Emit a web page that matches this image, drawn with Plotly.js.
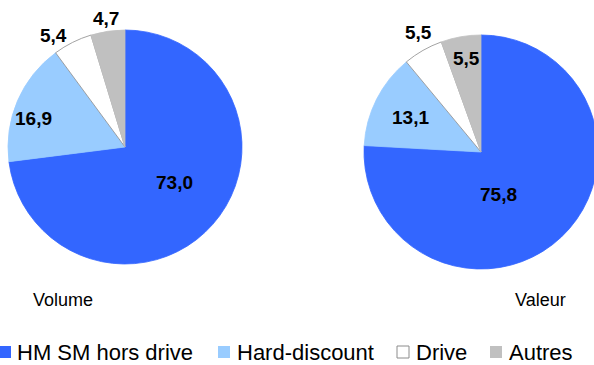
<!DOCTYPE html>
<html>
<head>
<meta charset="utf-8">
<script src="https://cdn.plot.ly/plotly-3.0.1.min.js"></script>
<style>
  html, body { margin: 0; padding: 0; background: #fff; overflow: hidden; }
  #chart { width: 600px; height: 365px; }
</style>
</head>
<body>
<div id="chart"></div>
<script>
// ---- Data ----
const categories = ["HM SM hors drive", "Hard-discount", "Drive", "Autres"];
const volumeValues = [73.0, 16.9, 5.4, 4.7];
const valeurValues = [75.8, 13.1, 5.5, 5.5];
const pieTitles = ["Volume", "Valeur"];

// ---- Style / layout constants ----
const W = 600, H = 365;
const colors = ["#3366FF", "#99CCFF", "#FFFFFF", "#C0C0C0"];
const lineColors = ["#3366FF", "#99CCFF", "#8C8C8C", "#C0C0C0"];
const FONT = "Liberation Sans, Arial, Helvetica, sans-serif";
// pie geometry in pixels: center x, center y, radius
const pies = [
  { cx: 125, cy: 147, r: 117 },
  { cx: 481, cy: 152, r: 117 }
];
// label placement: radial fraction and angular tweak (degrees)
const labelR = [[0.52, 0.82, 1.13, 1.11], [0.39, 0.67, 1.15, 0.81]];
const labelShift = [[-6, -6, -6, 0], [21, -1, 2, 1]];
const titlePos = [{ x: 63, y: 300 }, { x: 540, y: 300 }];
const legendSquares = [-1, 218, 397, 490];
const legendText = [15, 235, 414, 507];
const legendY = 352;

const px = x => x / W;
const py = y => 1 - y / H;
const fmt = v => v.toFixed(1).replace('.', ',');

const seriesList = [volumeValues, valeurValues];

const traces = seriesList.map((vals, i) => {
  const p = pies[i];
  return {
    type: 'pie',
    labels: categories,
    values: vals,
    sort: false,
    direction: 'clockwise',
    rotation: 0,
    textinfo: 'none',
    hoverinfo: 'label+value',
    showlegend: false,
    automargin: false,
    marker: { colors: colors, line: { color: lineColors, width: 0.8 } },
    domain: {
      x: [px(p.cx - p.r), px(p.cx + p.r)],
      y: [py(p.cy + p.r), py(p.cy - p.r)]
    }
  };
});

const annotations = [];
seriesList.forEach((vals, i) => {
  const p = pies[i];
  const total = vals.reduce((a, b) => a + b, 0);
  let cum = 0;
  vals.forEach((v, j) => {
    const mid = (cum + v / 2) / total * 360 + labelShift[i][j];
    cum += v;
    const th = mid * Math.PI / 180;
    const rr = labelR[i][j] * p.r;
    annotations.push({
      xref: 'paper', yref: 'paper',
      x: px(p.cx + rr * Math.sin(th)),
      y: py(p.cy - rr * Math.cos(th)),
      xanchor: 'center', yanchor: 'middle',
      text: '<b>' + fmt(v) + '</b>',
      showarrow: false,
      font: { family: FONT, size: 19, color: '#000' }
    });
  });
  annotations.push({
    xref: 'paper', yref: 'paper',
    x: px(titlePos[i].x), y: py(titlePos[i].y),
    xanchor: 'center', yanchor: 'middle',
    text: pieTitles[i], showarrow: false,
    font: { family: FONT, size: 18, color: '#000' }
  });
});

const shapes = [];
categories.forEach((c, k) => {
  shapes.push({
    type: 'rect', xref: 'paper', yref: 'paper',
    x0: px(legendSquares[k]), x1: px(legendSquares[k] + 12),
    y0: py(legendY + 6), y1: py(legendY - 6),
    fillcolor: colors[k],
    line: { color: k === 2 ? '#8C8C8C' : colors[k], width: k === 2 ? 1 : 0 }
  });
  annotations.push({
    xref: 'paper', yref: 'paper',
    x: px(legendText[k]), y: py(legendY),
    xanchor: 'left', yanchor: 'middle',
    text: c, showarrow: false,
    font: { family: FONT, size: 22, color: '#000' }
  });
});

const layout = {
  width: W, height: H,
  margin: { l: 0, r: 0, t: 0, b: 0 },
  paper_bgcolor: '#FFFFFF',
  plot_bgcolor: '#FFFFFF',
  showlegend: false,
  annotations: annotations,
  shapes: shapes,
  font: { family: FONT }
};

Plotly.newPlot('chart', traces, layout, { displayModeBar: false, staticPlot: true });
</script>
</body>
</html>
